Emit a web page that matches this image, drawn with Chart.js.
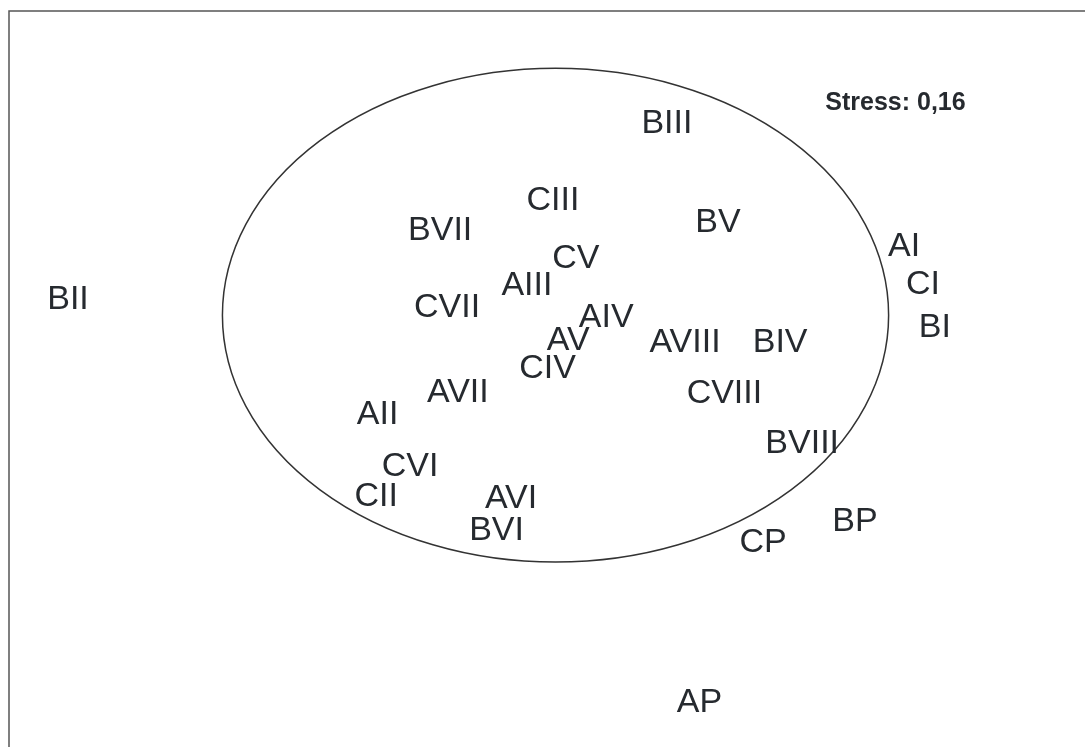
<!DOCTYPE html>
<html>
<head>
<meta charset="utf-8">
<script src="https://cdn.jsdelivr.net/npm/chart.js@4"></script>
<style>
  html, body { margin: 0; padding: 0; background: #fff; }
  canvas { display: block; }
</style>
</head>
<body>
<canvas id="graph" width="1085" height="747"></canvas>
<script>
// MDS sample labels and their coordinates
const sampleNames = ["BIII", "CIII", "BVII", "BV", "AI", "CV", "AIII", "CI", "BII", "CVII",
  "BI", "AIV", "AV", "AVIII", "BIV", "CIV", "AVII", "CVIII", "AII", "BVIII",
  "CVI", "CII", "AVI", "BVI", "BP", "CP", "AP"];
const dim1 = [0.344, 0.029, -0.283, 0.485, 1.000, 0.092, -0.043, 1.052, -1.312, -0.264,
  1.085, 0.176, 0.071, 0.394, 0.657, 0.014, -0.234, 0.503, -0.456, 0.718,
  -0.366, -0.460, -0.087, -0.127, 0.864, 0.610, 0.434];
const dim2 = [0.676, 0.470, 0.390, 0.411, 0.348, 0.314, 0.244, 0.245, 0.205, 0.183,
  0.131, 0.157, 0.095, 0.090, 0.090, 0.020, -0.044, -0.047, -0.103, -0.181,
  -0.241, -0.321, -0.327, -0.414, -0.390, -0.446, -0.874];

// grouping ellipse (centre and radii in the same units)
const ellipseCentre = [0.036, 0.156];
const ellipseRadii = [0.921, 0.661];

const stressText = "Stress: 0,16";
const stressPos = [0.976, 0.730];

const points = sampleNames.map((n, i) => ({ x: dim1[i], y: dim2[i], name: n }));

const labelPlugin = {
  id: 'labels',
  afterDatasetsDraw(chart) {
    const ctx = chart.ctx;
    const xs = chart.scales.x, ys = chart.scales.y;
    ctx.save();

    // frame lines (top and left)
    ctx.strokeStyle = '#555';
    ctx.lineWidth = 1.5;
    ctx.beginPath();
    ctx.moveTo(9, 747);
    ctx.lineTo(9, 11);
    ctx.lineTo(1085, 11);
    ctx.stroke();

    // ellipse
    const cx = xs.getPixelForValue(ellipseCentre[0]);
    const cy = ys.getPixelForValue(ellipseCentre[1]);
    const rx = xs.getPixelForValue(ellipseCentre[0] + ellipseRadii[0]) - cx;
    const ry = cy - ys.getPixelForValue(ellipseCentre[1] + ellipseRadii[1]);
    ctx.strokeStyle = '#333';
    ctx.lineWidth = 1.5;
    ctx.beginPath();
    ctx.ellipse(cx, cy, rx, ry, 0, 0, Math.PI * 2);
    ctx.stroke();

    // sample labels, centred on their point
    const size = 34;
    ctx.font = size + 'px "Liberation Sans", Arial, sans-serif';
    ctx.fillStyle = '#262a2f';
    ctx.textAlign = 'center';
    ctx.textBaseline = 'alphabetic';
    chart.getDatasetMeta(0).data.forEach((pt, i) => {
      ctx.fillText(points[i].name, pt.x, pt.y + size * 0.358);
    });

    // stress value
    ctx.font = 'bold 25px "Liberation Sans", Arial, sans-serif';
    ctx.fillText(stressText, xs.getPixelForValue(stressPos[0]), ys.getPixelForValue(stressPos[1]) + 25 * 0.358);
    ctx.restore();
  }
};

new Chart(document.getElementById('graph'), {
  type: 'scatter',
  data: {
    datasets: [{
      data: points,
      pointRadius: 0,
      pointHoverRadius: 0
    }]
  },
  options: {
    responsive: false,
    animation: false,
    layout: { padding: 0 },
    plugins: { legend: { display: false }, tooltip: { enabled: false } },
    scales: {
      x: { type: 'linear', min: -1.5, max: 1.5, display: false },
      y: { type: 'linear', min: -1, max: 1, display: false }
    }
  },
  plugins: [labelPlugin]
});
</script>
</body>
</html>
